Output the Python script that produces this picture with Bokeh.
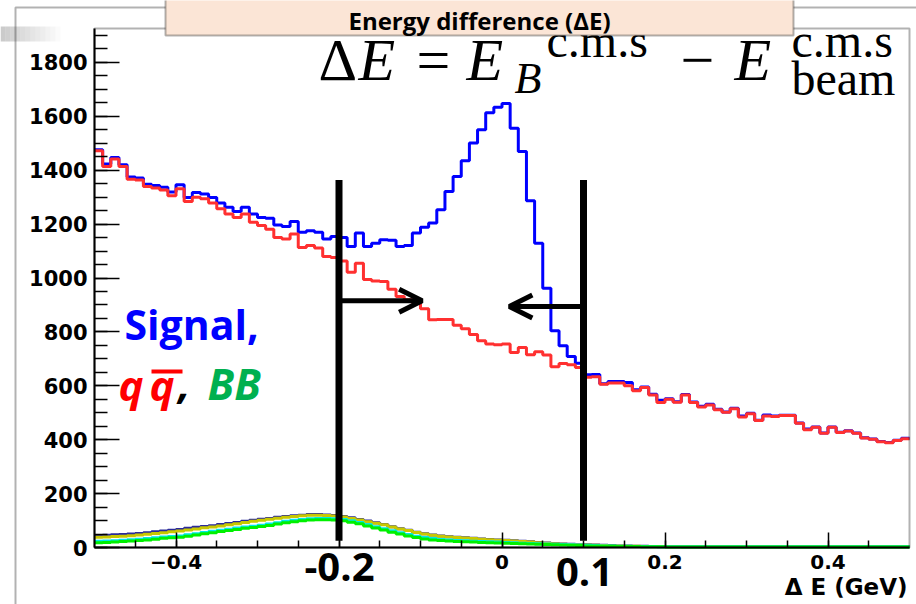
import numpy as np
from bokeh.plotting import figure
from bokeh.models import (ColumnDataSource, Range1d, FixedTicker,
                          Label, Arrow, OpenHead, BoxAnnotation)
from bokeh.embed import file_html
from bokeh.resources import INLINE

# ---------------- data ----------------
X_MIN, X_MAX = -0.5, 0.5
N_BINS = 100
Y_MAX = 1926

# q-qbar continuum (red)
qq = [1472, 1414, 1442, 1414, 1367, 1364, 1340, 1334, 1327, 1305,
      1331, 1284, 1300, 1294, 1278, 1257, 1238, 1225, 1238, 1207,
      1195, 1181, 1150, 1145, 1163, 1113, 1121, 1111, 1080, 1076,
      1063, 1021, 1055, 995, 989, 987, 958, 931, 919, 907,
      886, 845, 846, 846, 825, 812, 790, 767, 755, 752,
      755, 724, 742, 715, 726, 714, 671, 683, 678, 668,
      632, 634, 606, 610, 610, 600, 582, 594, 566, 538,
      550, 539, 566, 538, 521, 529, 511, 502, 515, 484,
      496, 471, 488, 486, 490, 490, 461, 437, 446, 424,
      446, 427, 432, 424, 406, 402, 392, 389, 397, 404]

# signal + background (blue)
total = [1476, 1423, 1447, 1420, 1375, 1371, 1348, 1343, 1337, 1319,
         1346, 1299, 1317, 1312, 1299, 1278, 1263, 1247, 1263, 1238,
         1225, 1222, 1197, 1191, 1210, 1170, 1175, 1170, 1145, 1154,
         1150, 1117, 1167, 1117, 1129, 1142, 1140, 1117, 1121, 1167,
         1188, 1204, 1253, 1321, 1377, 1435, 1501, 1550, 1613, 1634,
         1648, 1556, 1470, 1287, 1129, 962, 804, 749, 709, 684,
         641, 642, 608, 616, 616, 612, 585, 596, 569, 546,
         552, 541, 568, 540, 524, 532, 513, 503, 517, 488,
         498, 472, 492, 488, 491, 491, 462, 440, 447, 425,
         447, 428, 433, 425, 407, 403, 393, 390, 398, 405]

# B-Bbar backgrounds
bb_navy = [44, 45, 47, 48, 50, 52, 55, 58, 61, 64,
           67, 71, 75, 78, 81, 85, 89, 93, 97, 101,
           105, 108, 112, 115, 118, 120, 122, 122, 121, 119,
           115, 110, 104, 98, 92, 85, 77, 70, 64, 57,
           51, 46, 43, 40, 38, 36, 34, 32, 30, 28,
           27, 25, 23, 21, 19, 17, 15, 13, 12, 11,
           10, 9, 8, 7, 6, 6, 5, 5, 4, 4,
           4, 4, 3, 3, 3, 3, 3, 3, 3, 3,
           3, 3, 3, 3, 3, 3, 3, 3, 3, 3,
           3, 3, 3, 3, 3, 3, 3, 3, 3, 3]
bb_yellow = [38, 39, 41, 42, 44, 46, 49, 52, 55, 58,
             61, 65, 69, 73, 76, 80, 84, 88, 93, 97,
             101, 105, 109, 112, 115, 118, 120, 120, 119, 117,
             113, 108, 102, 96, 90, 84, 76, 69, 63, 56,
             50, 45, 42, 39, 37, 35, 33, 31, 29, 27,
             26, 24, 22, 20, 18, 16, 14, 12, 11, 10,
             9, 8, 7, 6, 6, 5, 5, 4, 4, 4,
             3, 3, 3, 3, 3, 3, 3, 3, 3, 3,
             3, 3, 3, 3, 3, 3, 3, 3, 3, 3,
             3, 3, 3, 3, 3, 3, 3, 3, 3, 3]
bb_cyan = [23, 24, 25, 27, 29, 31, 33, 36, 39, 41,
           43, 47, 51, 56, 60, 64, 68, 72, 76, 79,
           83, 87, 92, 97, 101, 104, 107, 108, 108, 107,
           104, 99, 93, 85, 77, 70, 62, 55, 48, 42,
           37, 33, 30, 28, 26, 25, 23, 22, 21, 20,
           19, 18, 16, 15, 14, 13, 12, 11, 10, 9,
           8, 7, 6, 6, 5, 5, 4, 4, 4, 3,
           3, 3, 3, 3, 3, 3, 3, 3, 3, 3,
           3, 3, 3, 3, 3, 3, 3, 3, 3, 3,
           3, 3, 3, 3, 3, 3, 3, 3, 3, 3]
bb_green = [18, 19, 20, 22, 24, 26, 28, 31, 34, 36,
            38, 42, 46, 51, 55, 59, 63, 67, 71, 74,
            78, 82, 87, 92, 96, 99, 102, 103, 103, 102,
            99, 94, 88, 80, 72, 65, 57, 50, 43, 37,
            32, 28, 26, 24, 22, 21, 20, 19, 18, 17,
            16, 15, 14, 13, 12, 11, 10, 9, 8, 7,
            6, 6, 5, 5, 4, 4, 4, 3, 3, 3,
            2, 2, 2, 2, 2, 2, 2, 2, 2, 2,
            2, 2, 2, 2, 2, 2, 2, 2, 2, 2,
            2, 2, 2, 2, 2, 2, 2, 2, 2, 2]

x_major_ticks = [-0.4, -0.2, 0, 0.2, 0.4]
x_minor_ticks = [-0.45, -0.4, -0.35, -0.3, -0.25, -0.2, -0.15, -0.1, -0.05, 0,
                 0.05, 0.1, 0.15, 0.2, 0.25, 0.3, 0.35, 0.4, 0.45]
x_tick_labels = {-0.4: "\u22120.4", -0.2: "", 0: "0", 0.2: "0.2", 0.4: "0.4"}
y_major_ticks = [0, 200, 400, 600, 800, 1000, 1200, 1400, 1600, 1800]
y_minor_ticks = [0, 50, 100, 150, 200, 250, 300, 350, 400, 450, 500, 550, 600, 650,
                 700, 750, 800, 850, 900, 950, 1000, 1050, 1100, 1150, 1200, 1250,
                 1300, 1350, 1400, 1450, 1500, 1550, 1600, 1650, 1700, 1750, 1800,
                 1850, 1900]

CUT_LO, CUT_HI = -0.2, 0.1
CUT_Y0, CUT_Y1 = 25, 1364
ARROW_LO_Y, ARROW_HI_Y = 916, 894
ARROW_LO_TIP, ARROW_HI_TIP = -0.098, 0.009

# ---------------- geometry (pixel frame of the ROOT pad inside the slide) ----------------
W, H = 916, 604
FL, FR, FT, FB = 94, 909, 28, 547


def dx(px):
    return X_MIN + (px - FL) / (FR - FL) * (X_MAX - X_MIN)


def dy(py):
    return (FB - py) / (FB - FT) * Y_MAX


p = figure(width=W, height=H, output_backend="svg", toolbar_location=None,
           x_range=Range1d(dx(0), dx(W)), y_range=Range1d(dy(H), dy(0)),
           min_border=0, min_border_left=0, min_border_right=0,
           min_border_top=0, min_border_bottom=0,
           background_fill_color="white", border_fill_color="white")
p.title.visible = False
p.grid.visible = False
p.outline_line_color = None

AXIS_FONT = "DejaVu Sans"

xa = p.xaxis[0]
xa.fixed_location = 0
xa.bounds = (X_MIN, X_MAX)
xa.ticker = FixedTicker(ticks=x_major_ticks, minor_ticks=x_minor_ticks)
xa.major_label_overrides = x_tick_labels
xa.major_tick_in, xa.major_tick_out = 15, 0
xa.minor_tick_in, xa.minor_tick_out = 7, 0
xa.axis_line_width = 2
xa.major_tick_line_width = 1.5
xa.minor_tick_line_width = 1.5
xa.major_label_text_font = AXIS_FONT
xa.major_label_text_font_style = "bold"
xa.major_label_text_font_size = "20px"
xa.major_label_text_color = "black"
xa.major_label_standoff = 7

ya = p.yaxis[0]
ya.fixed_location = X_MIN
ya.bounds = (0, Y_MAX)
ya.ticker = FixedTicker(ticks=y_major_ticks, minor_ticks=y_minor_ticks)
ya.major_tick_in, ya.major_tick_out = 25, 0
ya.minor_tick_in, ya.minor_tick_out = 13, 0
ya.axis_line_width = 2
ya.major_tick_line_width = 1.5
ya.minor_tick_line_width = 1.5
ya.major_label_text_font = AXIS_FONT
ya.major_label_text_font_style = "bold"
ya.major_label_text_font_size = "21px"
ya.major_label_text_color = "black"
ya.major_label_standoff = 7

# ---------------- slide decorations ----------------
for k in range(12):
    p.add_layout(BoxAnnotation(left=dx(k * 5), right=dx(k * 5 + 5), top=dy(26), bottom=dy(41),
                               fill_color="#a0a0a0", fill_alpha=0.55 * (1 - k / 12.0),
                               line_alpha=0))
p.add_layout(BoxAnnotation(left=dx(15), right=dx(W + 5), top=dy(7), bottom=dy(H + 5),
                           fill_alpha=0, line_color="black", line_width=2))

# plot frame
p.add_layout(BoxAnnotation(left=X_MIN, right=X_MAX, bottom=0, top=Y_MAX,
                           fill_alpha=0, line_color="black", line_width=2))

# histograms
edges = np.linspace(X_MIN, X_MAX, N_BINS + 1)


def hist(vals, color, width=3):
    src = ColumnDataSource(dict(x=edges, y=list(vals) + [vals[-1]]))
    p.step("x", "y", source=src, mode="after", line_color=color, line_width=width)


hist(bb_navy, "#2b2b9a")
hist(bb_yellow, "#c8c800")
hist(bb_cyan, "#00e8e8")
hist(bb_green, "#00f000")
hist(total, "#0000ff")
hist(qq, "#ff3030")

# cut lines and arrows
p.segment(x0=[CUT_LO, CUT_HI], y0=[CUT_Y0, CUT_Y0], x1=[CUT_LO, CUT_HI], y1=[CUT_Y1, CUT_Y1],
          line_color="black", line_width=7)
p.add_layout(Arrow(end=OpenHead(size=23, line_width=5, line_color="black"),
                   x_start=CUT_LO, y_start=ARROW_LO_Y, x_end=ARROW_LO_TIP, y_end=ARROW_LO_Y,
                   line_width=5, line_color="black"))
p.add_layout(Arrow(end=OpenHead(size=23, line_width=5, line_color="black"),
                   x_start=CUT_HI, y_start=ARROW_HI_Y, x_end=ARROW_HI_TIP, y_end=ARROW_HI_Y,
                   line_width=5, line_color="black"))

SHIFT = {"Open Sans": 0.39, "Liberation Serif": 0.37, "DejaVu Sans": 0.36}


def lab(text, px, base_py, size, font="Open Sans", style="bold", color="black", align="left"):
    py = base_py - SHIFT.get(font, 0.37) * size
    p.add_layout(Label(x=dx(px), y=dy(py), text=text, text_font=font,
                       text_font_style=style, text_font_size=f"{size}px",
                       text_color=color, text_align=align, text_baseline="alphabetic"))


# big cut labels
lab("-0.2", 339, 582, 40, align="center")
lab("0.1", 584, 587, 40, align="center")
# axis title
lab("\u0394 E (GeV)", 907, 595, 23, font="DejaVu Sans", align="right")

# legend text
lab("Signal,", 124, 339, 41, color="#0000ff")
lab("q", 118, 400, 42, style="bold italic", color="#ff0000")
lab("q", 149, 400, 42, style="bold italic", color="#ff0000")
lab(",", 178, 400, 42, style="bold italic", color="black")
lab("BB", 207, 400, 43, style="bold italic", color="#00b050")
p.add_layout(BoxAnnotation(left=dx(151), right=dx(182), top=dy(369), bottom=dy(373),
                           fill_color="#ff0000", fill_alpha=1, line_alpha=0))

# formula
SER = "Liberation Serif"
lab("\u0394", 318, 82, 60, font=SER, style="normal")
lab("E", 358, 82, 60, font=SER, style="italic")
lab("=", 416, 82, 60, font=SER, style="normal")
lab("E", 466, 82, 60, font=SER, style="italic")
lab("c.m.s", 546, 58, 48, font=SER, style="normal")
lab("B", 514, 94, 44, font=SER, style="italic")
lab("\u2212", 680, 82, 60, font=SER, style="normal")
lab("E", 734, 82, 60, font=SER, style="italic")
lab("c.m.s", 791, 58, 48, font=SER, style="normal")
lab("beam", 791, 96, 48, font=SER, style="normal")

# slide title box
p.add_layout(BoxAnnotation(left=dx(165), right=dx(793), top=dy(-20), bottom=dy(35),
                           fill_color="#fbe5d6", fill_alpha=1, line_color="black", line_width=2))
lab("Energy difference (\u0394E)", 479, 29, 24, align="center")

open("out.html", "w").write(file_html(p, INLINE))
